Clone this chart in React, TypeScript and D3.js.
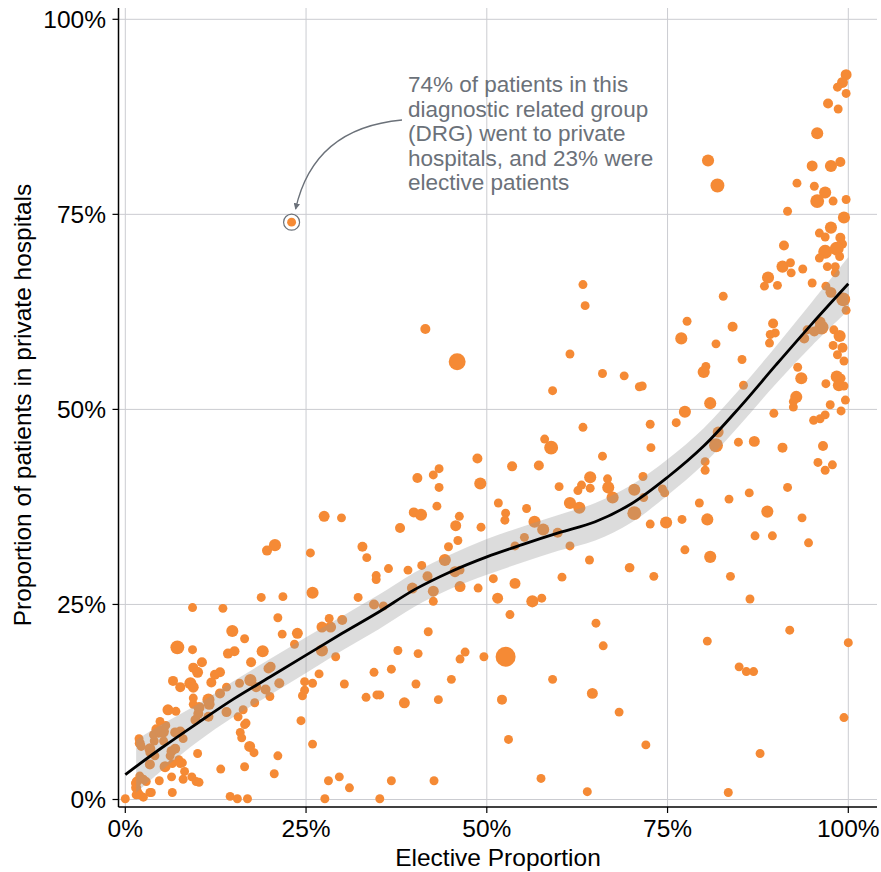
import React from "react";
import * as d3 from "d3";

// Each DRG: elective share (%), private-hospital share (%), relative volume
const electivePct: number[] = [
  99.7, 99.2, 98.5, 99.7, 97.2, 98.6, 95.7, 80.6, 81.9, 95.0, 97.6, 98.9, 92.9, 95.3, 96.8, 95.7, 97.9, 99.7, 91.6, 99.4,
  97.6, 96.0, 96.8, 98.9, 91.1, 99.2, 96.8, 98.4, 96.0, 98.8, 90.9, 92.0, 93.7, 97.1, 98.2, 92.1, 88.9, 98.2, 88.4, 90.2,
  95.0, 96.9, 82.7,
  84.0, 89.6, 89.9, 94.3, 96.3, 97.6, 99.3, 99.7, 77.7, 76.9, 81.7, 89.2, 89.1, 96.1, 95.3, 93.9, 98.0, 98.8, 97.9, 99.2,
  98.5, 99.4, 85.3, 80.3, 80.0, 93.0, 93.5, 85.5, 96.9, 98.4, 99.0, 98.7, 99.4, 71.5, 80.9, 92.8, 92.4, 92.4, 97.5, 99.6,
  99.0, 77.4, 76.2, 72.6, 89.7, 95.2, 96.1, 96.8, 82.0, 81.7, 84.8, 87.0, 90.9, 96.5, 72.7,
  95.8, 96.8, 97.8, 80.2, 80.2, 71.6, 70.4, 71.7, 74.3, 74.6, 70.4, 72.6, 74.8, 77.0, 80.5, 79.4, 83.5, 86.3, 91.6, 88.8,
  93.6, 94.5, 87.1, 89.5, 77.4, 80.9, 69.8, 73.1, 83.7, 86.4, 91.9, 80.5, 100.0, 84.9, 85.9, 86.9, 99.4, 72.0, 87.8, 83.4,
  39.7, 42.6, 42.6, 46.3, 48.8, 53.9, 51.5, 56.3, 57.6, 53.2, 65.1, 66.1, 41.9, 37.7, 40.5, 47.0, 46.3, 49.6, 52.6, 36.8,
  40.2, 45.1, 59.1, 64.6, 35.2, 38.6, 43.3, 52.1, 68.3, 53.0, 36.8, 42.7, 57.5, 63.9, 35.2,
  63.3, 41.5, 45.9, 63.6, 61.5, 66.0, 69.0, 59.1, 71.1, 63.3, 58.0, 58.9, 66.0, 48.7, 53.5, 57.2, 40.4, 42.6, 43.4, 43.4,
  49.1, 64.3, 63.1, 62.6, 64.3, 66.7, 66.8, 60.0, 67.4, 61.5, 62.8, 43.1, 39.9, 40.9, 46.2, 51.6, 52.6, 52.5, 55.5, 45.7,
  49.2, 38.0, 56.6, 57.8, 59.8, 61.5, 55.2, 53.9, 44.7, 46.0, 44.2, 36.4, 39.1, 41.0, 41.8, 45.6, 46.3, 64.2, 69.7, 50.9,
  60.4,
  27.5, 29.9, 20.7, 19.6, 25.6, 32.8, 33.4, 34.7, 34.7, 25.9, 18.8, 21.8, 32.2,
  9.3, 13.5, 21.1, 28.2, 30.0, 34.4, 35.7, 27.2, 28.4, 14.8, 16.5, 21.7, 23.8, 23.4, 27.2, 7.2, 9.3, 19.0, 14.2, 15.1,
  17.4, 29.1, 10.6, 9.4, 10.0, 12.4, 13.1, 19.8, 20.1, 14.0, 15.8, 17.3, 21.3, 24.8, 25.9, 24.8, 24.5, 26.8, 30.3, 34.4,
  33.3, 34.8, 6.6, 7.6, 9.0, 9.4, 11.9, 18.1, 19.4, 20.0, 11.5, 11.6, 13.1, 9.4, 9.4, 10.2, 10.1, 7.0, 5.9, 4.8,
  4.6, 5.2, 3.9, 7.6, 6.9, 8.0, 2.0, 1.9, 3.4, 6.4, 6.9, 10.0, 7.4, 7.9, 3.4, 5.5, 13.2, 16.5, 20.6, 8.2,
  8.0, 4.7, 6.4, 9.2, 9.8, 10.2, 6.5, 3.4, 2.5, 1.6, 1.5, 1.7, 2.0, 0.0, 14.5, 15.5, 16.9, 24.3, 25.9, 27.6,
  28.1, 29.6, 31.0, 17.8, 17.2, 21.1, 16.5, 15.9, 16.1, 16.7, 17.9, 14.0, 11.5, 9.7, 15.6, 16.3,
  4.3, 5.6, 4.0, 5.3, 2.2, 3.4, 4.1, 6.2, 2.0, 2.5, 2.9, 1.4, 1.5, 3.6, 6.5, 7.6,
];

const privatePct: number[] = [
  92.9, 91.9, 91.3, 90.5, 89.2, 88.5, 85.4, 81.9, 78.7, 81.2, 81.2, 81.7, 79.0, 78.6, 77.8, 76.7, 76.7, 76.9, 75.4, 74.6,
  73.3, 72.6, 72.1, 72.0, 71.0, 71.2, 70.2, 70.6, 69.4, 69.6, 68.3, 68.8, 68.0, 68.3, 68.3, 67.5, 66.9, 67.5, 65.8, 65.9,
  66.2, 65.8, 64.5,
  60.6, 61.0, 59.8, 60.2, 60.5, 65.0, 64.1, 62.7, 61.3, 59.1, 58.4, 59.6, 58.5, 61.2, 60.0, 59.1, 60.2, 59.4, 58.2, 57.9,
  57.0, 56.2, 56.4, 55.5, 54.8, 55.4, 54.0, 53.1, 53.3, 54.2, 54.0, 53.1, 53.0, 53.0, 50.8, 51.6, 51.0, 50.3, 50.6, 51.2,
  49.8, 49.7, 48.3, 48.1, 49.5, 48.6, 48.8, 49.3, 47.1, 45.4, 45.8, 45.9, 45.1, 45.3, 45.1,
  43.2, 42.2, 42.9, 43.3, 42.2, 41.4, 39.7, 38.7, 39.8, 39.3, 36.7, 35.3, 35.5, 35.9, 35.9, 38.0, 38.5, 39.3, 40.0, 36.9,
  36.1, 32.9, 33.8, 33.8, 32.0, 31.1, 29.7, 28.6, 28.6, 25.7, 21.7, 20.3, 20.1, 17.0, 16.4, 16.4, 10.5, 7.0, 5.9, 0.9,
  27.1, 26.7, 25.4, 27.3, 27.1, 27.7, 25.8, 25.4, 25.8, 23.7, 22.6, 19.7, 21.5, 19.1, 18.7, 18.9, 18.0, 18.3, 18.3, 16.7,
  14.8, 15.4, 15.4, 13.6, 13.4, 12.4, 12.8, 12.8, 11.2, 7.7, 2.4, 2.4, 2.7, 1.0, 0.1,
  66.0, 60.3, 56.1, 63.3, 57.1, 54.6, 54.3, 52.4, 52.9, 47.7, 46.2, 45.1, 44.0, 43.7, 42.7, 42.8, 41.2, 41.6, 42.4, 40.0,
  40.5, 41.3, 40.3, 39.6, 39.9, 41.1, 40.0, 40.1, 38.7, 38.0, 37.4, 37.6, 36.8, 36.5, 36.3, 38.0, 36.7, 35.8, 37.3, 35.1,
  34.9, 34.8, 35.6, 34.6, 34.2, 32.5, 33.6, 32.5, 32.4, 33.2, 30.7, 29.6, 29.4, 30.0, 28.6, 29.2, 29.4, 30.7, 29.7, 28.3,
  28.5,
  36.3, 36.1, 32.6, 31.9, 31.6, 32.4, 31.0, 28.7, 28.2, 26.5, 25.9, 26.0, 25.9,
  24.6, 24.5, 23.3, 23.2, 23.0, 25.0, 24.8, 22.1, 22.1, 21.6, 20.6, 21.2, 21.3, 19.9, 19.1, 19.5, 19.2, 19.0, 18.7, 19.0,
  17.6, 18.3, 17.6, 16.9, 16.3, 16.0, 16.3, 16.8, 17.0, 14.4, 14.9, 15.3, 14.9, 15.1, 14.9, 14.0, 13.3, 16.1, 14.8, 16.3,
  13.1, 13.4, 15.2, 14.4, 14.9, 14.4, 15.0, 14.4, 14.1, 13.2, 12.8, 12.2, 13.6, 12.2, 13.0, 11.8, 11.0, 11.3, 11.5, 10.0,
  8.7, 8.7, 8.3, 8.7, 8.6, 7.8, 7.2, 7.8, 6.5, 6.2, 6.5, 5.9, 5.1, 4.7, 4.5, 4.2, 3.9, 4.2, 3.3, 3.6,
  2.6, 2.4, 2.9, 2.9, 2.3, 2.2, 0.9, 0.9, 0.3, 2.3, 1.5, 1.0, 0.6, 0.1, 0.4, 0.1, 0.1, 10.1, 7.1, 0.1,
  2.4, 2.9, 1.5, 6.0, 6.8, 5.6, 9.6, 8.6, 7.9, 9.8, 12.4, 11.2, 10.6, 10.2, 10.6, 11.5,
  9.0, 9.5, 7.5, 7.5, 6.8, 6.0, 5.6, 5.6, 3.0, 2.6, 2.3, 2.1, 0.6, 0.9, 4.6, 4.6,
];

const volume: number[] = [
  1.8, 1.8, 1.2, 1.2, 1.5, 1.2, 2.2, 2.2, 2.9, 1.8, 2.2, 1.5, 1.2, 1.2, 2.2, 2.9, 1.2, 1.2, 1.2, 2.2,
  2.2, 1.2, 1.2, 1.5, 1.5, 1.2, 2.9, 2.9, 1.2, 1.2, 2.2, 1.2, 1.2, 1.2, 1.2, 1.2, 2.2, 1.2, 1.2, 1.2,
  1.2, 1.2, 1.2,
  1.5, 1.5, 1.2, 1.2, 2.9, 1.8, 2.9, 1.2, 1.2, 2.2, 1.2, 1.2, 1.2, 1.8, 1.5, 1.5, 1.2, 2.2, 1.2, 1.5,
  1.2, 1.2, 1.2, 1.2, 2.2, 1.2, 2.2, 1.2, 1.2, 2.2, 1.2, 2.2, 1.2, 1.2, 2.2, 2.2, 1.2, 1.2, 1.2, 1.2,
  1.2, 2.2, 1.2, 1.2, 1.2, 1.2, 1.2, 1.2, 1.8, 2.9, 1.2, 1.8, 1.5, 1.5, 1.2,
  1.2, 1.2, 1.2, 1.2, 1.2, 1.2, 2.2, 1.2, 1.2, 1.2, 2.9, 1.2, 2.2, 1.2, 2.2, 1.2, 1.2, 1.2, 1.2, 2.2,
  1.2, 1.2, 1.2, 1.2, 1.2, 2.2, 1.2, 1.2, 1.2, 1.2, 1.2, 1.2, 1.2, 1.2, 1.2, 1.2, 1.2, 1.2, 1.2, 1.2,
  1.8, 1.8, 1.2, 1.8, 1.2, 1.8, 1.8, 2.2, 1.2, 1.2, 1.2, 1.2, 1.2, 1.2, 1.2, 1.2, 1.2, 1.2, 6.0, 1.2,
  1.2, 1.2, 1.2, 1.8, 1.2, 1.8, 1.2, 1.5, 1.2, 1.2, 1.2, 1.2, 1.2, 1.2, 1.2,
  1.2, 1.5, 4.3, 1.2, 1.2, 1.2, 1.2, 1.2, 1.2, 1.2, 1.2, 2.9, 1.2, 1.5, 1.5, 1.5, 1.5, 1.2, 1.2, 1.2,
  2.2, 2.2, 1.2, 1.2, 1.2, 1.2, 2.2, 1.2, 2.2, 2.2, 2.2, 1.2, 1.5, 2.2, 1.2, 1.2, 1.2, 1.2, 1.2, 1.8,
  1.2, 1.5, 2.2, 2.2, 1.5, 1.2, 1.2, 1.2, 1.2, 1.2, 2.2, 1.2, 1.2, 1.2, 1.5, 1.8, 1.2, 1.2, 1.2, 1.2,
  1.2,
  1.8, 1.2, 2.2, 1.5, 1.2, 1.5, 1.2, 1.2, 1.2, 2.2, 1.2, 1.2, 1.2,
  1.2, 1.2, 1.2, 1.2, 1.5, 1.5, 1.2, 1.8, 1.8, 2.2, 1.2, 1.2, 1.8, 1.2, 2.2, 2.9, 1.2, 2.2, 1.5, 1.5,
  1.5, 1.2, 1.5, 1.5, 1.8, 1.5, 1.5, 1.5, 1.5, 1.2, 1.2, 2.2, 1.5, 1.2, 1.2, 1.2, 1.2, 1.2, 1.2, 1.2,
  1.2, 1.2, 1.5, 1.5, 2.2, 1.8, 1.5, 1.5, 1.5, 1.2, 2.2, 1.8, 1.5, 1.2, 1.2, 1.8, 1.5, 1.2, 1.8, 1.2,
  2.2, 2.2, 1.2, 1.5, 1.5, 1.2, 1.5, 1.2, 1.8, 1.5, 1.5, 1.2, 1.2, 1.2, 1.5, 1.8, 1.2, 1.2, 1.2, 1.2,
  1.2, 1.2, 1.2, 1.2, 1.2, 1.2, 1.2, 1.2, 1.2, 1.5, 1.5, 1.2, 1.2, 1.2, 1.2, 1.2, 1.2, 1.2, 1.2, 1.2,
  1.2, 1.2, 1.2, 1.2, 1.8, 1.2, 1.2, 1.2, 1.2, 1.2, 1.2, 1.5, 1.5, 1.5, 1.2, 1.2,
  1.5, 1.2, 1.2, 1.2, 1.2, 1.2, 1.2, 1.2, 1.2, 1.2, 1.2, 1.2, 1.2, 1.2, 1.2, 1.2,
];

// Highlighted DRG
const highlightElective = 23;
const highlightPrivate = 74;
const highlightVolume = 1.2;
const annotationLines: string[] = [
  "74% of patients in this",
  "diagnostic related group",
  "(DRG) went to private",
  "hospitals, and 23% were",
  "elective patients",
];

// Smoothed trend with its confidence band
const trendX: number[] = [0, 5, 10, 15, 20, 25, 30, 35, 40, 45, 50, 55, 60, 65, 70, 75, 80, 85, 90, 95, 100];
const trendY: number[] = [3.2, 6.6, 9.8, 12.9, 15.7, 18.5, 21.3, 24.0, 26.9, 29.2, 31.1, 32.7, 34.2, 35.6, 37.9, 41.3, 45.3, 50.3, 55.7, 61.0, 66.1];
const bandX: number[] = [1.5, 5, 10, 15, 20, 25, 30, 35, 40, 45, 50, 55, 60, 65, 70, 75, 80, 85, 90, 95, 100];
const bandLow: number[] = [0.9, 3.7, 7.4, 10.6, 13.4, 16.2, 19.1, 21.8, 24.7, 27.0, 28.8, 30.4, 31.9, 33.2, 35.5, 39.0, 43.0, 48.0, 53.3, 58.2, 62.7];
const bandHigh: number[] = [7.6, 9.6, 12.2, 15.2, 18.0, 20.8, 23.5, 26.2, 29.1, 31.4, 33.4, 35.0, 36.5, 38.0, 40.3, 43.6, 47.6, 52.6, 58.1, 63.8, 69.5];

const xTicks: number[] = [0, 25, 50, 75, 100];
const yTicks: number[] = [0, 25, 50, 75, 100];

const W = 881;
const H = 872;
const left = 118.5;
const right = 877;
const top = 8;
const bottom = 807;
const FONT = "'Liberation Sans', Arial, Helvetica, sans-serif";
const ORANGE = "#f58a35";
const GRID = "#cbccd1";
const NOTE = "#6b7179";

export default function App() {
  const x = d3.scaleLinear().domain([0, 100]).range([125.3, 848.3]);
  const y = d3.scaleLinear().domain([0, 100]).range([799.5, 19.3]);
  const r = d3.scaleSqrt().domain([0, 6]).range([0, 10]);

  const points = electivePct.map((e, i) => ({ e, p: privatePct[i], v: volume[i] ?? 1.2 }));

  const band = d3
    .area<number>()
    .x((_, i) => x(bandX[i]))
    .y0((_, i) => y(bandLow[i]))
    .y1((_, i) => y(bandHigh[i]))
    .curve(d3.curveCatmullRom.alpha(0.5))(bandX);

  const trend = d3
    .line<number>()
    .x((_, i) => x(trendX[i]))
    .y((_, i) => y(trendY[i]))
    .curve(d3.curveCatmullRom.alpha(0.5))(trendX);

  const hx = x(highlightElective);
  const hy = y(highlightPrivate);
  const noteX = 408;
  const noteY0 = 92;
  const lineH = 24.5;

  return (
    <svg
      width={W}
      height={H}
      style={{ position: "absolute", left: 0, top: 0, background: "#fff" }}
      fontFamily={FONT}
    >
      <defs>
        <marker id="head" viewBox="0 0 10 10" refX="9" refY="5" markerWidth="5" markerHeight="5" orient="auto">
          <path d="M0,0 L10,5 L0,10 z" fill={NOTE} />
        </marker>
      </defs>

      {/* grid */}
      {xTicks.map((t) => (
        <line key={"gx" + t} x1={x(t)} x2={x(t)} y1={top} y2={bottom} stroke={GRID} strokeWidth={1} />
      ))}
      {yTicks.map((t) => (
        <line key={"gy" + t} x1={left} x2={right} y1={y(t)} y2={y(t)} stroke={GRID} strokeWidth={1} />
      ))}

      {/* DRG points */}
      {points.map((d, i) => (
        <circle key={i} cx={x(d.e)} cy={y(d.p)} r={r(d.v)} fill={ORANGE} />
      ))}

      {/* confidence band over the points, then the trend line */}
      <path d={band ?? ""} fill="#999999" fillOpacity={0.34} />
      <path d={trend ?? ""} fill="none" stroke="#000" strokeWidth={2.8} />

      {/* highlighted DRG */}
      <circle cx={hx} cy={hy} r={8} fill="#fff" stroke={NOTE} strokeWidth={1.2} />
      <circle cx={hx} cy={hy} r={r(highlightVolume)} fill={ORANGE} />
      <path
        d={`M${noteX - 6},${noteY0 + 28} Q${hx + 22},${noteY0 + 36} ${hx + 4},${hy - 13}`}
        fill="none"
        stroke={NOTE}
        strokeWidth={1.3}
        markerEnd="url(#head)"
      />
      <text fill={NOTE} fontSize={22.5}>
        {annotationLines.map((s, i) => (
          <tspan key={i} x={noteX} y={noteY0 + i * lineH}>
            {s}
          </tspan>
        ))}
      </text>

      {/* axes */}
      <line x1={left} x2={left} y1={top} y2={bottom} stroke="#000" strokeWidth={1.5} />
      <line x1={left} x2={right} y1={bottom} y2={bottom} stroke="#000" strokeWidth={1.5} />
      {yTicks.map((t) => (
        <g key={"yt" + t}>
          <line x1={left - 6} x2={left} y1={y(t)} y2={y(t)} stroke="#000" strokeWidth={1.2} />
          <text x={106} y={y(t)} dy="0.36em" textAnchor="end" fontSize={24.5} fill="#000">
            {t}%
          </text>
        </g>
      ))}
      {xTicks.map((t) => (
        <g key={"xt" + t}>
          <line x1={x(t)} x2={x(t)} y1={bottom} y2={bottom + 6} stroke="#000" strokeWidth={1.2} />
          <text x={x(t)} y={837} textAnchor="middle" fontSize={24.5} fill="#000">
            {t}%
          </text>
        </g>
      ))}
      <text x={498} y={866} textAnchor="middle" fontSize={24.5} fill="#000">
        Elective Proportion
      </text>
      <text transform="translate(31,405) rotate(-90)" textAnchor="middle" fontSize={24.5} fill="#000">
        Proportion of patients in private hospitals
      </text>
    </svg>
  );
}
